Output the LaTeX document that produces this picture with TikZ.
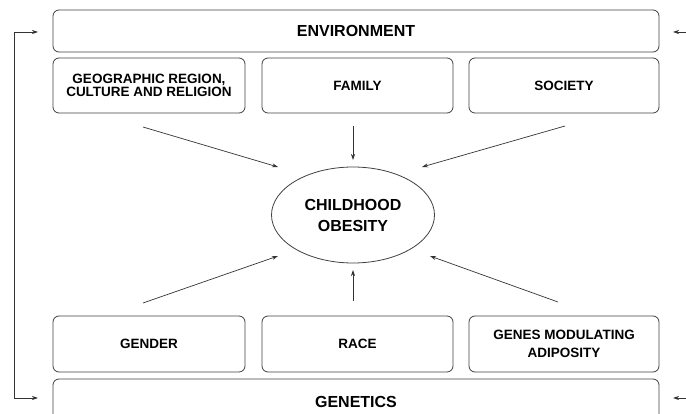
\documentclass[tikz,border=0pt]{standalone}
\usepackage{fontspec}
\setmainfont{Liberation Sans}
\usetikzlibrary{arrows.meta,shapes.geometric}
\begin{document}
\begin{tikzpicture}[x=1pt,y=-1pt,
  box/.style={draw=black!75,line width=0.8pt,rounded corners=6pt,inner sep=0pt,align=center,font=\bfseries\fontsize{13.5}{18}\selectfont},
  wide/.style={box,minimum width=606pt,font=\bfseries\fontsize{16}{18}\selectfont},
  cell/.style={box,minimum width=192pt,minimum height=55pt},
  oval/.style={draw=black!75,line width=0.8pt,ellipse,minimum width=163pt,minimum height=96pt,inner sep=0pt,align=center,font=\bfseries\fontsize{16}{21}\selectfont},
  arr/.style={draw=black!80,line width=0.7pt,-{Stealth[length=6pt,width=4pt]}},
  darr/.style={draw=black!80,line width=0.7pt,{Stealth[length=6pt,width=4pt]}-{Stealth[length=6pt,width=4pt]}}]
\clip (0,0) rectangle (686,414);
\node[wide,minimum height=42pt] (env) at (356,31) {ENVIRONMENT};
\node[cell,font=\bfseries\fontsize{13.5}{13}\selectfont] (geo) at (149,85.5) {GEOGRAPHIC REGION,\\CULTURE AND RELIGION};
\node[cell,minimum width=191pt] (fam) at (357.5,85.5) {FAMILY};
\node[cell,minimum width=190pt] (soc) at (564,85.5) {SOCIETY};
\node[oval] (ob) at (353,215) {CHILDHOOD\\OBESITY};
\node[cell,minimum height=56pt] (gen) at (149,344) {GENDER};
\node[cell,minimum width=191pt,minimum height=56pt] (race) at (357.5,344) {RACE};
\node[cell,minimum width=190pt,minimum height=56pt] (genes) at (564,344) {GENES MODULATING\\ADIPOSITY};
\node[wide,minimum height=46pt] (gts) at (356,402) {GENETICS};
% arrows to the ellipse
\coordinate (a1) at (143,127);
\coordinate (a2) at (353,126);
\coordinate (a3) at (565,126);
\coordinate (b1) at (143,303);
\coordinate (b2) at (353,301);
\coordinate (b3) at (558,302);
\draw[arr] (a1) -- (278,167);
\draw[arr] (a2) -- (353,160);
\draw[arr] (a3) -- (422,167);
\draw[arr] (b1) -- (278,256);
\draw[arr] (b2) -- (353,270);
\draw[arr] (b3) -- (430,256);
% feedback line on the left
\coordinate (l1) at (38,32);
\coordinate (l2) at (38,398);
\draw[darr] (l1) -- (14,32) -- (14,398) -- (l2);
% free arrows on the right
\coordinate (r1) at (686,32);
\coordinate (r2) at (686,398);
\draw[arr] (r1) -- (673,32);
\draw[arr] (r2) -- (673,398);
\end{tikzpicture}
\end{document}
